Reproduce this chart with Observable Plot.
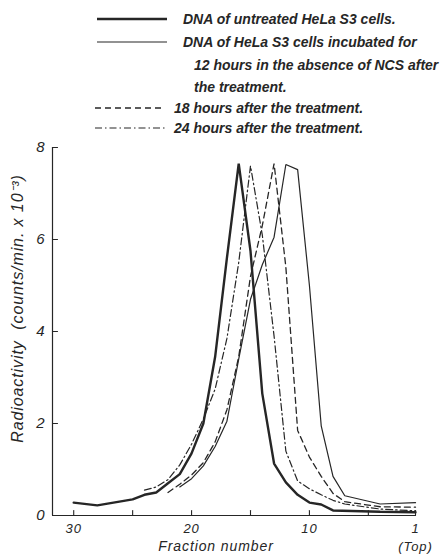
<!DOCTYPE html>
<html><head><meta charset="utf-8">
<script src="https://cdn.jsdelivr.net/npm/d3@7"></script>
<script src="https://cdn.jsdelivr.net/npm/@observablehq/plot@0.6"></script>
<style>
body{margin:0;background:#fff;width:441px;height:555px;overflow:hidden}
#legend{position:relative;height:138px;width:441px;font-family:"Liberation Sans",Arial,sans-serif;font-style:italic;font-weight:bold;font-size:14px;color:#262626}
.lt{position:absolute;white-space:nowrap;line-height:20px;height:20px}
.ls{position:absolute;overflow:visible}
#chart svg{display:block}
</style></head><body>
<div id="legend"></div><div id="chart"></div>
<script>
// ---- data ----
const seriesNames = ["untreated", "12 hours", "18 hours", "24 hours"];
const legendTexts = [
  ["DNA of untreated HeLa S3 cells."],
  ["DNA of HeLa S3 cells incubated for", "12 hours in the absence of NCS after", "the treatment."],
  ["18 hours after the treatment."],
  ["24 hours after the treatment."]
];
const untreatedFractions = [30, 28, 25, 24, 23, 22, 21, 20, 19, 18, 17, 16, 15, 14, 13, 12, 11, 10, 9, 8, 4, 1];
const untreatedValues    = [0.28, 0.22, 0.35, 0.45, 0.5, 0.7, 0.9, 1.35, 2.0, 3.45, 5.6, 7.65, 5.75, 2.65, 1.13, 0.72, 0.45, 0.28, 0.24, 0.11, 0.08, 0.07];
const h12Fractions = [21, 20, 19, 18, 17, 16, 15, 14, 13, 12, 11, 10, 9, 8, 7, 4, 1];
const h12Values    = [0.62, 0.8, 1.08, 1.5, 2.05, 3.4, 4.7, 5.45, 6.05, 7.63, 7.52, 5.0, 1.95, 0.85, 0.43, 0.25, 0.28];
const h18Fractions = [22, 21, 20, 19, 18, 17, 16, 15, 14, 13, 12, 11, 10, 9, 8, 7, 4, 1];
const h18Values    = [0.5, 0.68, 0.88, 1.15, 1.6, 2.3, 3.45, 5.2, 6.3, 7.65, 5.4, 1.85, 1.27, 0.85, 0.48, 0.3, 0.19, 0.18];
const h24Fractions = [24, 23, 22, 21, 20, 19, 18, 17, 16, 15, 14, 13, 12, 11, 10, 9, 8, 7, 4, 1];
const h24Values    = [0.55, 0.62, 0.78, 1.1, 1.55, 2.1, 2.75, 3.85, 5.5, 7.6, 6.1, 3.9, 1.4, 0.75, 0.58, 0.45, 0.33, 0.25, 0.14, 0.1];
const yTicks = [0, 2, 4, 6, 8];
const xMajorTicks = [30, 20, 10, 1];
const xMinorTicks = [30, 25, 20, 15, 10, 5, 1];
const xLabel = "Fraction number";
const topLabel = "(Top)";
const yLabel = "Radioactivity  (counts/min. x 10\u207B\u00B3)";
const xDomain = [31.8, 1];
const yDomain = [0, 8];

// ---- styles ----
const ink = "#262626";
const styles = [
  {strokeWidth: 2.4, dash: null},
  {strokeWidth: 1.2, dash: null},
  {strokeWidth: 1.3, dash: "6,4"},
  {strokeWidth: 1.2, dash: "7,3,1.5,3"}
];
const allFractions = [untreatedFractions, h12Fractions, h18Fractions, h24Fractions];
const allValues = [untreatedValues, h12Values, h18Values, h24Values];
const tables = seriesNames.map((s, i) => allFractions[i].map((f, j) => ({series: s, fraction: f, value: allValues[i][j]})));

// ---- legend ----
const layout = [
  {sy: 19, sx: 97, sw: 70, tx: [183], ty: [19]},
  {sy: 42, sx: 97, sw: 70, tx: [183, 194, 194], ty: [42, 65, 87]},
  {sy: 108, sx: 95, sw: 70, tx: [174], ty: [108]},
  {sy: 128, sx: 95, sw: 72, tx: [174], ty: [128]}
];
const legend = d3.select("#legend");
layout.forEach((L, i) => {
  const svg = legend.append("svg").attr("class", "ls")
    .style("left", L.sx + "px").style("top", (L.sy - 4) + "px")
    .attr("width", L.sw).attr("height", 8);
  svg.append("line").attr("x1", 0).attr("x2", L.sw).attr("y1", 4).attr("y2", 4)
    .attr("stroke", ink).attr("stroke-width", styles[i].strokeWidth)
    .attr("stroke-dasharray", styles[i].dash);
  legendTexts[i].forEach((t, k) => {
    legend.append("div").attr("class", "lt")
      .style("left", L.tx[k] + "px").style("top", (L.ty[k] - 10) + "px").text(t);
  });
});

// ---- chart ----
const tickShape = {draw(context, l) { context.moveTo(0, 0); context.lineTo(0, -l); }};
const chart = Plot.plot({
  width: 441, height: 417,
  marginLeft: 52, marginRight: 26, marginTop: 9, marginBottom: 40,
  x: {domain: xDomain},
  y: {domain: yDomain},
  style: {fontFamily: "Liberation Sans, Arial, sans-serif", fontStyle: "italic", fontSize: "14px", color: ink, background: "#fff"},
  marks: [
    Plot.ruleY([yDomain[0]], {stroke: ink, strokeWidth: 1.2}),
    Plot.ruleX([xDomain[0]], {stroke: ink, strokeWidth: 1.2}),
    Plot.vector(yTicks, {y: d => d, frameAnchor: "left", rotate: 90, length: 5, anchor: "start",
      shape: tickShape, stroke: ink, strokeWidth: 1.1}),
    Plot.vector(xMinorTicks, {x: d => d, frameAnchor: "bottom", rotate: 0, length: 5, anchor: "start",
      shape: tickShape, stroke: ink, strokeWidth: 1.1}),
    Plot.axisY({ticks: yTicks, tickSize: 0, tickPadding: 7, label: null, fill: ink, fontSize: 15}),
    Plot.axisX({ticks: xMajorTicks, tickSize: 0, tickPadding: 8, label: null, fill: ink, fontSize: 13}),
    ...tables.map((t, i) => Plot.line(t, {
      x: "fraction", y: "value", stroke: ink,
      strokeWidth: styles[i].strokeWidth, strokeDasharray: styles[i].dash,
      strokeLinejoin: "miter", curve: "linear"
    })),
    Plot.text([yLabel], {frameAnchor: "left", textAnchor: "middle", rotate: -90, dx: -35, dy: -23,
      fontSize: 16, fill: ink, fontStyle: "italic"}),
    Plot.text([xLabel], {frameAnchor: "bottom", textAnchor: "middle", dx: -18, dy: 35,
      fontSize: 14, fill: ink, fontStyle: "italic"}),
    Plot.text([xMajorTicks[xMajorTicks.length - 1]], {x: d => d, text: () => topLabel, frameAnchor: "bottom",
      dy: 35, fontSize: 13, fill: ink, fontStyle: "italic"})
  ]
});
d3.select(chart).selectAll("text").style("letter-spacing", "0.9px");
document.getElementById("chart").appendChild(chart);
</script>
</body></html>
